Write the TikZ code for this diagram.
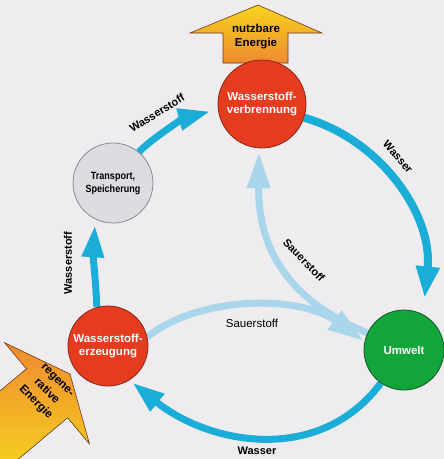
\documentclass[tikz,border=0pt]{standalone}
\usepackage{fontspec}
\setmainfont{Liberation Sans}
\newfontfamily\condfont[FakeStretch=0.86]{Liberation Sans}
\usetikzlibrary{arrows.meta}
\pgfdeclarelayer{bglayer}
\pgfdeclarelayer{arrowlayer}
\pgfsetlayers{bglayer,arrowlayer,main}
\definecolor{cBg}{HTML}{EEECEF}
\definecolor{cRed}{HTML}{E53B1E}
\definecolor{cRedB}{HTML}{8E2618}
\definecolor{cGray}{HTML}{DDDCE1}
\definecolor{cGrayB}{HTML}{8A8A92}
\definecolor{cGreen}{HTML}{12A53A}
\definecolor{cGreenB}{HTML}{15572A}
\definecolor{cCyan}{HTML}{19ADD8}
\definecolor{cLight}{HTML}{A9D6EA}
\definecolor{cYel}{HTML}{F6D41E}
\definecolor{cOra}{HTML}{EF8A30}
\definecolor{cBrown}{HTML}{6A3A18}
\begin{document}
\begin{tikzpicture}[x=1pt,y=-1pt,
  circ/.style={circle,draw,line width=0.8pt,inner sep=0pt,align=center,
    font=\bfseries\fontsize{11.5}{13}\selectfont},
  redcirc/.style={circ,fill=cRed,draw=cRedB,text=white},
  graycirc/.style={circ,fill=cGray,draw=cGrayB,text=black,
    font=\condfont\bfseries\fontsize{10.5}{13}\selectfont},
  greencirc/.style={circ,fill=cGreen,draw=cGreenB,text=white},
  flow/.style={line width=7pt,draw=cCyan,-{Triangle[length=32pt,width=21pt]}},
  oxy/.style={line width=7pt,draw=cLight,-{Triangle[length=36pt,width=22pt]}},
  lbl/.style={font=\bfseries\fontsize{11}{13}\selectfont,text=black,inner sep=1pt},
  lblr/.style={font=\fontsize{11.5}{13}\selectfont,text=black,inner sep=1pt},
  ptext/.style={font=\bfseries\fontsize{11.5}{14}\selectfont,text=black,align=center,inner sep=0pt},
  energy/.style={draw=cBrown,line width=0.6pt}]

\begin{pgfonlayer}{bglayer}
\fill[cBg] (0,0) rectangle (444,459);
\end{pgfonlayer}
\useasboundingbox (0,0) rectangle (444,459);

% energy arrows
\shade[energy,top color=cYel,bottom color=cOra]
  (258,5) -- (322,33) -- (288,33) -- (288,63) -- (223,63) -- (223,33) -- (190,33) -- cycle;
\node[ptext] (nutz) at (256,37) {nutzbare\\Energie};

\begin{pgfonlayer}{arrowlayer}
\begin{scope}[shift={(70,374)},rotate=-50]
\shade[energy,top color=cOra,bottom color=cYel]
  (0,0) -- (66,30) -- (32,30) -- (32,120) -- (-32,120) -- (-32,30) -- (-66,30) -- cycle;
\end{scope}
\end{pgfonlayer}
\node[ptext,rotate=-45,font=\bfseries\fontsize{11.5}{15.5}\selectfont] (reg) at (46,392) {regene-\\rative\\Energie};

% circles
\node[redcirc,minimum size=88pt] (verb) at (262,104) {Wasserstoff-\\verbrennung};
\node[graycirc,minimum size=80pt] (trans) at (113,183) {Transport,\\Speicherung};
\node[redcirc,minimum size=80pt] (erz) at (108,346) {Wasserstoff-\\erzeugung};
\node[greencirc,minimum size=80pt] (umw) at (404,350) {Umwelt};

\begin{pgfonlayer}{arrowlayer}
% oxygen flows
\draw[oxy,shorten >=1pt] (erz.13) .. controls (200,295) and (300,295) .. (umw.168);
\draw[oxy,shorten >=4pt] (umw.155) .. controls (300,305) and (258,260) .. (verb.-94);
% hydrogen / water flows
\draw[flow,shorten >=6pt] (erz.106) .. controls (96,285) and (93,255) .. (trans.-116);
\draw[flow,shorten >=8pt] (trans.50) .. controls (152,138) and (185,118) .. (verb.187);
\draw[flow,line width=8pt,-{Triangle[length=32pt,width=22pt]},shorten >=16pt]
  (verb.-18) .. controls (382,140) and (433,216) .. (umw.62);
\draw[flow,shorten >=4pt] (umw.-125) .. controls (320,465) and (210,445) .. (erz.-58);
\end{pgfonlayer}

% labels
\node[lbl,rotate=32] (l1) at (157,113) {Wasserstoff};
\node[lbl,rotate=90] (l2) at (68,263) {Wasserstoff};
\node[lbl,rotate=-49] (l3) at (398,157) {Wasser};
\node[lbl] (l4) at (257,451) {Wasser};
\node[lbl,rotate=-46] (l5) at (304,260) {Sauerstoff};
\node[lblr] (l6) at (252,323) {Sauerstoff};
\end{tikzpicture}
\end{document}
